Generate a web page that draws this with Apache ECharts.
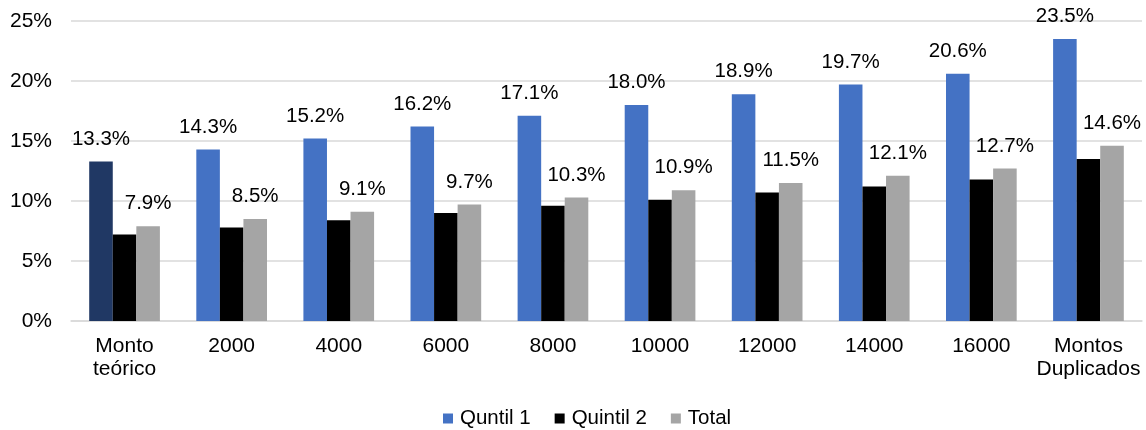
<!DOCTYPE html>
<html>
<head>
<meta charset="utf-8">
<script src="https://cdn.jsdelivr.net/npm/echarts@6/dist/echarts.min.js"></script>
<style>html,body{margin:0;padding:0;background:#fff;}#c{width:1146px;height:430px;}</style>
</head>
<body>
<div id="c"></div>
<script>
const categories = ['Monto\nteórico','2000','4000','6000','8000','10000','12000','14000','16000','Montos\nDuplicados'];
const quntil1 = [13.3,14.3,15.2,16.2,17.1,18.0,18.9,19.7,20.6,23.5];
const quintil2 = [7.2,7.8,8.4,9.0,9.6,10.1,10.7,11.2,11.8,13.5];
const total = [7.9,8.5,9.1,9.7,10.3,10.9,11.5,12.1,12.7,14.6];
const yTicks = [0,5,10,15,20,25];

const FONT = '"Liberation Sans", Arial, sans-serif';
const chart = echarts.init(document.getElementById('c'), null, {renderer:'canvas'});
const lbl = {show:true, position:'top', distance:12, color:'#000', fontSize:20.5, fontFamily:FONT,
  formatter: p => p.value.toFixed(1) + '%'};
chart.setOption({
  animation:false,
  textStyle:{fontFamily:FONT},
  grid:{left:71, right:4, top:21, bottom:109, containLabel:false},
  legend:{
    bottom:1, left:443, padding:0, itemWidth:10, itemHeight:10, itemGap:24, icon:'rect',
    textStyle:{fontSize:20.5, color:'#000', fontFamily:FONT, padding:[0,0,0,2]},
    data:['Quntil 1','Quintil 2','Total']
  },
  xAxis:{
    type:'category', data:categories,
    axisTick:{show:false},
    axisLine:{lineStyle:{color:'#D9D9D9', width:1.5}},
    axisLabel:{color:'#000', fontSize:21, fontFamily:FONT, margin:14, lineHeight:23, interval:0}
  },
  yAxis:{
    type:'value', min:yTicks[0], max:yTicks[yTicks.length-1], interval:5,
    axisLine:{show:false}, axisTick:{show:false},
    splitLine:{lineStyle:{color:'#D9D9D9', width:1.5}},
    axisLabel:{color:'#000', fontSize:21, fontFamily:FONT, margin:19, formatter:'{value}%'}
  },
  series:[
    {name:'Quntil 1', type:'bar', barGap:'0%', barCategoryGap:'34%',
     itemStyle:{color:'#4472C4'},
     data: quntil1.map((v,i)=> i===0 ? {value:v, itemStyle:{color:'#203864'}} : v),
     label:lbl},
    {name:'Quintil 2', type:'bar', itemStyle:{color:'#000000'}, data:quintil2},
    {name:'Total', type:'bar', itemStyle:{color:'#A5A5A5'}, data:total, label:lbl}
  ]
});
</script>
</body>
</html>
